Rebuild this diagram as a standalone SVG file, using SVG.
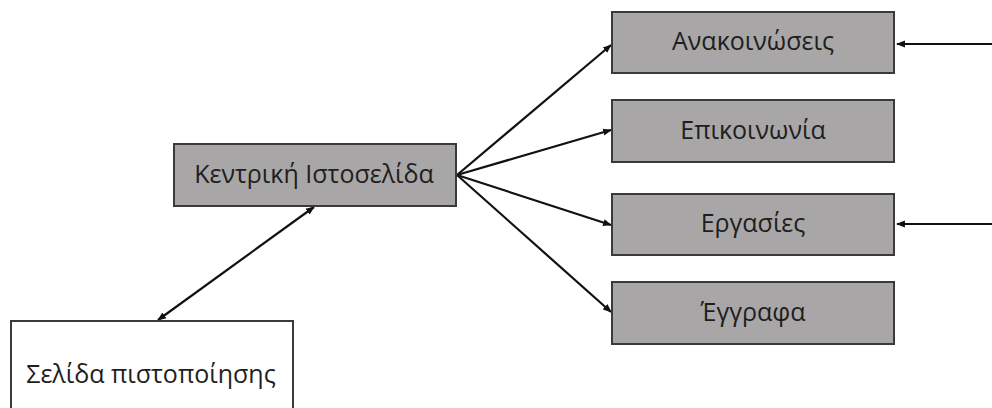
<svg xmlns="http://www.w3.org/2000/svg" width="992" height="408" viewBox="0 0 992 408">
  <style>
    .box { fill: #a8a6a6; stroke: #3a3a3a; stroke-width: 2; }
    .plain { fill: #ffffff; stroke: #3a3a3a; stroke-width: 2; }
    .label { font-family: "Open Sans", "Noto Sans", sans-serif; font-size: 25px; fill: #1e1e1e; text-anchor: middle; }
    .link { stroke: #111111; stroke-width: 2.2; fill: none; }
  </style>
  <defs>
    <marker id="head" viewBox="0 0 10 10" refX="9" refY="5" markerWidth="4" markerHeight="4" orient="auto-start-reverse" markerUnits="strokeWidth">
      <path d="M0,1 L10,5 L0,9 z" fill="#111111"/>
    </marker>
  </defs>

  <rect width="992" height="408" fill="#ffffff"/>

  <g id="connectors">
    <line class="link" x1="457" y1="175" x2="611" y2="45" marker-end="url(#head)"/>
    <line class="link" x1="457" y1="175" x2="611" y2="130" marker-end="url(#head)"/>
    <line class="link" x1="457" y1="175" x2="611" y2="225" marker-end="url(#head)"/>
    <line class="link" x1="457" y1="175" x2="611" y2="312" marker-end="url(#head)"/>
    <line class="link" x1="158" y1="320" x2="314" y2="207" marker-start="url(#head)" marker-end="url(#head)"/>
    <line class="link" x1="992" y1="44" x2="897" y2="44" marker-end="url(#head)"/>
    <line class="link" x1="992" y1="224" x2="897" y2="224" marker-end="url(#head)"/>
  </g>

  <g id="home">
    <rect class="box" x="174" y="144" width="282" height="62"/>
    <text class="label" x="314" y="183">Κεντρική Ιστοσελίδα</text>
  </g>

  <g id="announcements">
    <rect class="box" x="612" y="12" width="282" height="61"/>
    <text class="label" x="753" y="50">Ανακοινώσεις</text>
  </g>

  <g id="contact">
    <rect class="box" x="612" y="100" width="282" height="62"/>
    <text class="label" x="753" y="139">Επικοινωνία</text>
  </g>

  <g id="assignments">
    <rect class="box" x="612" y="194" width="282" height="61"/>
    <text class="label" x="753" y="232">Εργασίες</text>
  </g>

  <g id="documents">
    <rect class="box" x="612" y="282" width="282" height="62"/>
    <text class="label" x="753" y="321">Έγγραφα</text>
  </g>

  <g id="login">
    <rect class="plain" x="11" y="321" width="282" height="100"/>
    <text class="label" x="151" y="383">Σελίδα πιστοποίησης</text>
  </g>
</svg>
